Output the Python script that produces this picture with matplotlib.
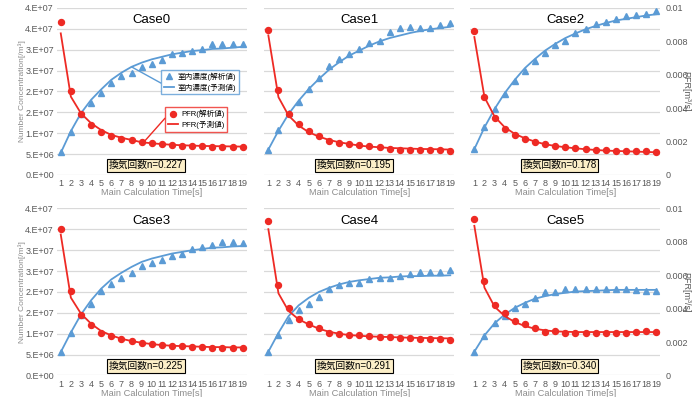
import numpy as np
import matplotlib
matplotlib.use('Agg')
import matplotlib.pyplot as plt
from matplotlib.lines import Line2D

plt.rcParams['font.family'] = ['Liberation Sans', 'Noto Sans CJK JP']

# x axis (calculation steps)
steps = list(range(1, 20))
x_labels = [str(s) for s in steps]

case_names = ['Case0', 'Case1', 'Case2', 'Case3', 'Case4', 'Case5']
air_change = ['0.227', '0.195', '0.178', '0.225', '0.291', '0.340']

# left axis ticks (number concentration)
conc_ticks = [0, 5e6, 1e7, 1.5e7, 2e7, 2.5e7, 3e7, 3.5e7, 4e7]
conc_tick_labels = ['0.E+00', '5.E+06', '1.E+07', '2.E+07', '2.E+07',
                    '3.E+07', '3.E+07', '4.E+07', '4.E+07']
# right axis ticks (PFR)
pfr_ticks = [0, 0.002, 0.004, 0.006, 0.008, 0.01]
pfr_tick_labels = ['0', '0.002', '0.004', '0.006', '0.008', '0.01']

# 室内濃度 in 1e7 /m3 : obs = 解析値, pred = 予測値
room_obs_0 = [0.54, 1.02, 1.46, 1.72, 1.96, 2.20, 2.37, 2.45, 2.59, 2.67, 2.75, 2.90, 2.91, 2.98, 3.01, 3.14, 3.14, 3.14, 3.14]
room_pred_0 = [0.53, 1.05, 1.48, 1.80, 2.05, 2.28, 2.45, 2.59, 2.69, 2.77, 2.83, 2.89, 2.93, 2.97, 2.99, 3.02, 3.03, 3.05, 3.07]
room_obs_1 = [0.61, 1.08, 1.48, 1.76, 2.05, 2.33, 2.60, 2.78, 2.89, 3.01, 3.17, 3.22, 3.42, 3.52, 3.54, 3.52, 3.52, 3.60, 3.63]
room_pred_1 = [0.61, 1.06, 1.46, 1.78, 2.06, 2.30, 2.52, 2.70, 2.86, 2.98, 3.10, 3.20, 3.28, 3.34, 3.40, 3.45, 3.49, 3.52, 3.55]
room_obs_2 = [0.62, 1.16, 1.57, 1.94, 2.26, 2.48, 2.73, 2.93, 3.12, 3.22, 3.40, 3.50, 3.62, 3.66, 3.74, 3.81, 3.84, 3.86, 3.93]
room_pred_2 = [0.62, 1.14, 1.58, 1.96, 2.28, 2.56, 2.78, 2.98, 3.14, 3.28, 3.39, 3.49, 3.57, 3.64, 3.70, 3.74, 3.78, 3.82, 3.85]
room_obs_3 = [0.56, 1.02, 1.44, 1.70, 2.02, 2.18, 2.34, 2.46, 2.62, 2.70, 2.76, 2.86, 2.92, 3.02, 3.08, 3.12, 3.20, 3.20, 3.17]
room_pred_3 = [0.56, 1.03, 1.46, 1.80, 2.08, 2.30, 2.46, 2.60, 2.72, 2.80, 2.86, 2.92, 2.96, 3.00, 3.03, 3.06, 3.07, 3.09, 3.10]
room_obs_4 = [0.57, 0.98, 1.33, 1.58, 1.72, 1.88, 2.06, 2.16, 2.22, 2.21, 2.30, 2.33, 2.34, 2.38, 2.42, 2.49, 2.49, 2.49, 2.53]
room_pred_4 = [0.57, 1.02, 1.42, 1.68, 1.86, 2.00, 2.10, 2.18, 2.24, 2.28, 2.31, 2.34, 2.35, 2.37, 2.38, 2.38, 2.39, 2.39, 2.40]
room_obs_5 = [0.57, 0.94, 1.26, 1.42, 1.62, 1.72, 1.85, 2.01, 2.01, 2.08, 2.08, 2.06, 2.08, 2.08, 2.06, 2.08, 2.04, 2.02, 2.02]
room_pred_5 = [0.57, 0.96, 1.25, 1.46, 1.62, 1.74, 1.84, 1.90, 1.95, 1.98, 2.01, 2.02, 2.03, 2.04, 2.05, 2.05, 2.05, 2.05, 2.05]

# PFR in 1e-3 m3/s
pfr_obs_0 = [9.14, 5.05, 3.63, 2.99, 2.59, 2.34, 2.16, 2.10, 2.00, 1.90, 1.86, 1.80, 1.76, 1.76, 1.75, 1.70, 1.70, 1.69, 1.65]
pfr_pred_0 = [8.48, 4.69, 3.69, 3.10, 2.69, 2.40, 2.23, 2.10, 1.96, 1.90, 1.85, 1.81, 1.78, 1.76, 1.74, 1.73, 1.72, 1.71, 1.70]
pfr_obs_1 = [8.70, 5.06, 3.66, 3.06, 2.62, 2.32, 2.06, 1.92, 1.86, 1.80, 1.72, 1.68, 1.56, 1.52, 1.52, 1.52, 1.52, 1.48, 1.46]
pfr_pred_1 = [8.36, 4.66, 3.56, 2.96, 2.56, 2.30, 2.10, 1.96, 1.86, 1.76, 1.70, 1.66, 1.62, 1.60, 1.58, 1.56, 1.55, 1.54, 1.52]
pfr_obs_2 = [8.62, 4.66, 3.42, 2.76, 2.40, 2.16, 1.96, 1.86, 1.76, 1.70, 1.62, 1.56, 1.52, 1.50, 1.46, 1.46, 1.44, 1.42, 1.40]
pfr_pred_2 = [8.26, 4.66, 3.50, 2.86, 2.46, 2.20, 2.00, 1.84, 1.74, 1.66, 1.60, 1.54, 1.50, 1.46, 1.44, 1.42, 1.40, 1.38, 1.36]
pfr_obs_3 = [8.80, 5.06, 3.60, 3.00, 2.56, 2.34, 2.16, 2.06, 1.96, 1.90, 1.84, 1.78, 1.74, 1.70, 1.68, 1.66, 1.62, 1.62, 1.65]
pfr_pred_3 = [8.44, 4.66, 3.70, 3.10, 2.66, 2.40, 2.20, 2.06, 1.96, 1.88, 1.82, 1.78, 1.76, 1.74, 1.72, 1.70, 1.70, 1.68, 1.68]
pfr_obs_4 = [9.26, 5.42, 4.04, 3.40, 3.10, 2.86, 2.56, 2.46, 2.40, 2.40, 2.34, 2.30, 2.30, 2.26, 2.22, 2.16, 2.16, 2.16, 2.12]
pfr_pred_4 = [8.76, 4.92, 3.86, 3.36, 3.06, 2.80, 2.62, 2.50, 2.42, 2.38, 2.34, 2.32, 2.30, 2.28, 2.26, 2.25, 2.24, 2.23, 2.22]
pfr_obs_5 = [9.36, 5.66, 4.24, 3.72, 3.24, 3.06, 2.86, 2.62, 2.66, 2.56, 2.56, 2.56, 2.56, 2.56, 2.56, 2.56, 2.60, 2.64, 2.62]
pfr_pred_5 = [8.96, 5.26, 4.12, 3.56, 3.20, 2.96, 2.80, 2.70, 2.64, 2.62, 2.60, 2.60, 2.60, 2.60, 2.60, 2.60, 2.60, 2.60, 2.60]

room_obs = [room_obs_0, room_obs_1, room_obs_2, room_obs_3, room_obs_4, room_obs_5]
room_pred = [room_pred_0, room_pred_1, room_pred_2, room_pred_3, room_pred_4, room_pred_5]
pfr_obs = [pfr_obs_0, pfr_obs_1, pfr_obs_2, pfr_obs_3, pfr_obs_4, pfr_obs_5]
pfr_pred = [pfr_pred_0, pfr_pred_1, pfr_pred_2, pfr_pred_3, pfr_pred_4, pfr_pred_5]

blue = '#5B9BD5'
red = '#EE2A24'
tick_color = '#595959'
label_color = '#8C8C8C'

fig = plt.figure(figsize=(6.95, 3.97), dpi=100)

lefts = [0.0816, 0.3803, 0.6767]
bottoms = [0.5592, 0.0542]
width = 0.2734
height = 0.4207

for i in range(6):
    row = i // 3
    col = i % 3
    ax = fig.add_axes([lefts[col], bottoms[row], width, height])
    ax2 = ax.twinx()

    # left axis: 室内濃度
    ax.set_xlim(0.6, 19.4)
    ax.set_ylim(0, 4e7)
    ax.set_yticks(conc_ticks)
    ax.set_yticklabels(conc_tick_labels)
    ax.set_xticks(steps)
    ax.set_xticklabels(x_labels)
    ax.grid(axis='y', color='#D9D9D9', lw=0.9)
    ax.set_axisbelow(True)
    ax.tick_params(length=0, labelsize=6.5, colors=tick_color)
    ax.tick_params(axis='x', pad=3)
    ax.tick_params(axis='y', pad=2)
    if col != 0:
        ax.tick_params(labelleft=False)
    else:
        ax.set_ylabel('Number Concentration[/m³]', fontsize=6, color=label_color)
        ax.yaxis.set_label_coords(-0.184, 0.5)
        ax.yaxis.label.set_va('center')
    ax.set_xlabel('Main Calculation Time[s]', fontsize=6.7, color=label_color)
    ax.xaxis.set_label_coords(0.5, -0.105)
    ax.xaxis.label.set_va('center')

    ax.plot(steps, np.array(room_pred[i]) * 1e7, color=blue, lw=1.3, zorder=3)
    ax.plot(steps, np.array(room_obs[i]) * 1e7, '^', color=blue, ms=5, ls='none', zorder=4)

    # right axis: PFR
    ax2.set_ylim(0, 0.01)
    ax2.set_yticks(pfr_ticks)
    ax2.set_yticklabels(pfr_tick_labels)
    ax2.tick_params(length=0, labelsize=6.5, colors=tick_color, pad=4)
    if col != 2:
        ax2.tick_params(labelright=False)
    else:
        ax2.set_ylabel('PFR[m³/s]', fontsize=6.5, color=tick_color, rotation=270)
        ax2.yaxis.set_label_coords(1.136, 0.5)
        ax2.yaxis.label.set_va('center')

    ax2.plot(steps, np.array(pfr_pred[i]) * 1e-3, color=red, lw=1.3, zorder=3)
    ax2.plot(steps, np.array(pfr_obs[i]) * 1e-3, 'o', color=red, ms=4.3, ls='none', zorder=4)

    for a in (ax, ax2):
        for s in a.spines.values():
            s.set_visible(False)

    ax2.text(0.5, 0.926, case_names[i], transform=ax.transAxes, ha='center', va='center',
             fontsize=9.5, color='black')
    ax2.text(0.47, 0.058, '換気回数n=' + air_change[i], transform=ax.transAxes,
             ha='center', va='center', fontsize=7, color='black',
             bbox=dict(boxstyle='square,pad=0.18', fc='#FCEFC8', ec='black', lw=0.8))

    # legends with leader lines only on Case0
    if i == 0:
        h1 = [Line2D([], [], color=blue, marker='^', ls='none', ms=5),
              Line2D([], [], color=blue, lw=1.3)]
        leg1 = ax2.legend(h1, ['室内濃度(解析値)', '室内濃度(予測値)'], loc='upper left',
                          bbox_to_anchor=(0.549, 0.63), fontsize=5.5, frameon=True,
                          fancybox=False, edgecolor=blue, borderpad=0.35,
                          handlelength=1.4, handletextpad=0.4, labelspacing=0.35,
                          borderaxespad=0)
        leg1.get_frame().set_linewidth(1.0)
        ax2.add_artist(leg1)
        h2 = [Line2D([], [], color=red, marker='o', ls='none', ms=4.3),
              Line2D([], [], color=red, lw=1.3)]
        leg2 = ax2.legend(h2, ['PFR(解析値)', 'PFR(予測値)'], loc='upper left',
                          bbox_to_anchor=(0.57, 0.406), fontsize=5.5, frameon=True,
                          fancybox=False, edgecolor=red, borderpad=0.35,
                          handlelength=1.4, handletextpad=0.4, labelspacing=0.35,
                          borderaxespad=0)
        leg2.get_frame().set_linewidth(1.0)
        ax.annotate('', xy=(8, room_pred[i][7] * 1e7), xycoords='data',
                    xytext=(0.549, 0.55), textcoords='axes fraction',
                    arrowprops=dict(arrowstyle='-', color=blue, lw=1.0,
                                    shrinkA=0, shrinkB=0))
        ax2.annotate('', xy=(9.2, pfr_pred[i][8] * 1e-3), xycoords='data',
                     xytext=(0.57, 0.34), textcoords='axes fraction',
                     arrowprops=dict(arrowstyle='-', color=red, lw=1.0,
                                     shrinkA=0, shrinkB=0))

plt.savefig('out.png', dpi=100)
